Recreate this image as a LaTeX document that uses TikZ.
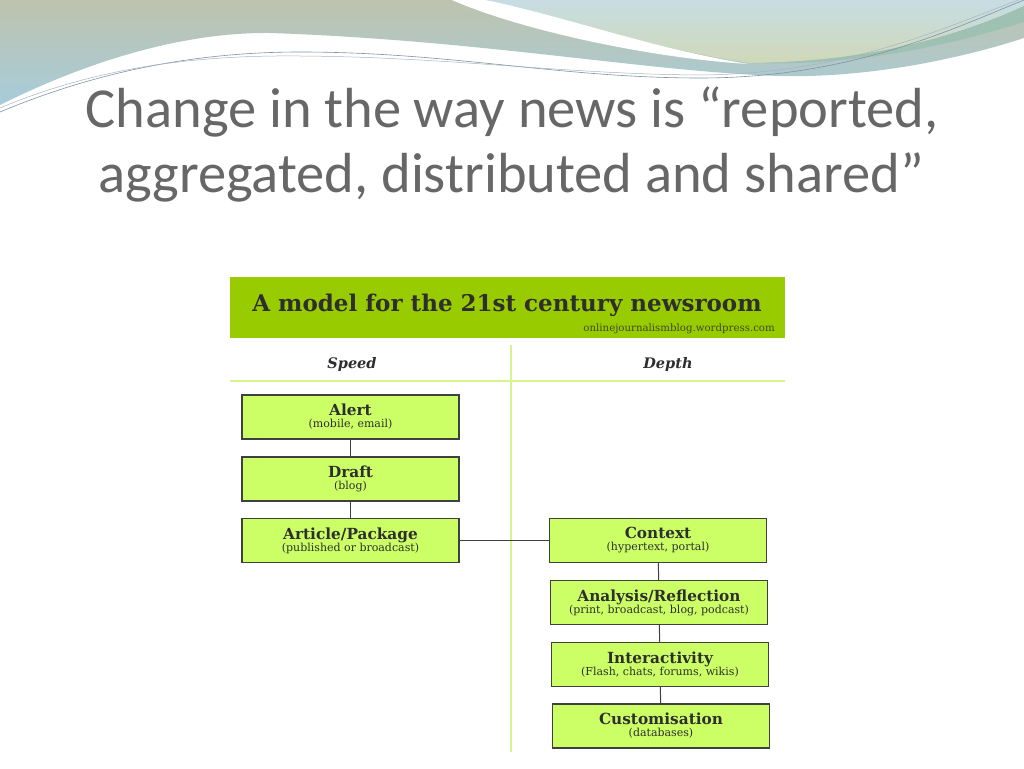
\documentclass[tikz,border=0pt]{standalone}
\usepackage{fontspec}
\setmainfont{DejaVu Serif}
\newfontfamily\slidefont{Carlito}
\definecolor{hdrgreen}{HTML}{99CC00}
\definecolor{boxfill}{HTML}{CCFF66}
\definecolor{boxline}{HTML}{404040}
\definecolor{sepgreen}{HTML}{D6F591}
\definecolor{darktext}{HTML}{2E2E2E}
\definecolor{subtext}{HTML}{3F4A22}
\definecolor{titlegray}{HTML}{676767}
\definecolor{decoA}{HTML}{BEC3AE}
\definecolor{decoB}{HTML}{A6CCDB}
\definecolor{decoC}{HTML}{C7DDE3}
\definecolor{decoD}{HTML}{CFD8B8}
\definecolor{decoE}{HTML}{9FC1B4}
\definecolor{thinline}{HTML}{7F93A8}
\newcommand{\bxt}[2]{{\fontsize{15.3}{14}\selectfont\bfseries #1}\\{\fontsize{11}{12}\selectfont #2}}
\begin{document}
\begin{tikzpicture}[x=1pt,y=-1pt,
  box/.style={draw=boxline, line width=1.3pt, fill=boxfill, minimum width=217pt, minimum height=44pt, align=center, inner sep=1pt, text=darktext},
  link/.style={draw=boxline, line width=1pt},
  sep/.style={draw=sepgreen, line width=1.2pt}]
\useasboundingbox (0,0) rectangle (1024,768);
\fill[white] (0,0) rectangle (1024,768);
% decoration
\shade[top color=decoA, bottom color=decoB]
  (0,0) -- (1024,0) -- (1024,38)
  .. controls (950,62) and (860,78) .. (780,76)
  .. controls (650,72) and (480,40) .. (270,33)
  .. controls (170,32) and (70,70) .. (0,105) -- cycle;
\shade[top color=decoC, bottom color=decoD]
  (480,0) -- (1024,0) -- (1024,6)
  .. controls (950,40) and (860,62) .. (750,63)
  .. controls (660,50) and (560,18) .. (480,0) -- cycle;
\fill[decoE]
  (1024,6) .. controls (950,40) and (860,62) .. (752,63)
  .. controls (860,66) and (950,45) .. (1024,22) -- cycle;
\fill[white]
  (452,0) .. controls (520,30) and (650,58) .. (748,64)
  .. controls (650,48) and (560,15) .. (485,0) -- cycle;
\draw[thinline, line width=0.6pt]
  (0,112) .. controls (100,70) and (200,52) .. (300,52)
  .. controls (450,52) and (560,78) .. (700,78)
  .. controls (850,78) and (950,30) .. (1024,0);
\draw[thinline!70, line width=0.5pt]
  (0,108) .. controls (100,66) and (200,55) .. (300,56)
  .. controls (450,57) and (560,74) .. (700,75)
  .. controls (850,74) and (950,25) .. (1024,-2);
% slide title
\node[font=\slidefont\fontsize{56.5}{60}\selectfont, text=titlegray, anchor=base] (t1) at (512,127) {Change in the way news is “reported,};
\node[font=\slidefont\fontsize{56.5}{60}\selectfont, text=titlegray, anchor=base] (t2) at (511,192) {aggregated, distributed and shared”};
% diagram header
\fill[hdrgreen] (230,277) rectangle (785,338);
\node[font=\fontsize{23}{23}\selectfont\bfseries, text=darktext, anchor=base] (hdr) at (507,311) {A model for the 21st century newsroom};
\node[font=\fontsize{10.2}{10.2}\selectfont, text=subtext, anchor=base east, inner sep=0pt] (site) at (775,331) {onlinejournalismblog.wordpress.com};
\node[font=\fontsize{14.5}{14.5}\selectfont\bfseries\itshape, text=darktext, anchor=base] (speed) at (352,368) {Speed};
\node[font=\fontsize{14.5}{14.5}\selectfont\bfseries\itshape, text=darktext, anchor=base] (depth) at (668,368) {Depth};
\coordinate (vtop) at (511,345);
\coordinate (vbot) at (511,752);
\coordinate (hl) at (230,381);
\coordinate (hr) at (785,381);
\draw[sep] (vtop) -- (vbot);
\draw[sep] (hl) -- (hr);
% boxes
\node[box] (alert) at (350.5,417) {\bxt{Alert}{(mobile, email)}};
\node[box] (draft) at (350.5,479) {\bxt{Draft}{(blog)}};
\node[box] (article) at (350.5,540.5) {\bxt{Article/Package}{(published or broadcast)}};
\node[box] (context) at (658,540.5) {\bxt{Context}{(hypertext, portal)}};
\node[box] (analysis) at (659,602.5) {\bxt{Analysis/Reflection}{(print, broadcast, blog, podcast)}};
\node[box] (inter) at (660,664.5) {\bxt{Interactivity}{(Flash, chats, forums, wikis)}};
\node[box] (custom) at (661,726) {\bxt{Customisation}{(databases)}};
% connectors
\draw[link] (alert) -- (draft);
\draw[link] (draft) -- (article);
\draw[link] (article) -- (context);
\draw[link] (context) -- (analysis);
\draw[link] (analysis) -- (inter);
\draw[link] (inter) -- (custom);
\end{tikzpicture}
\end{document}
